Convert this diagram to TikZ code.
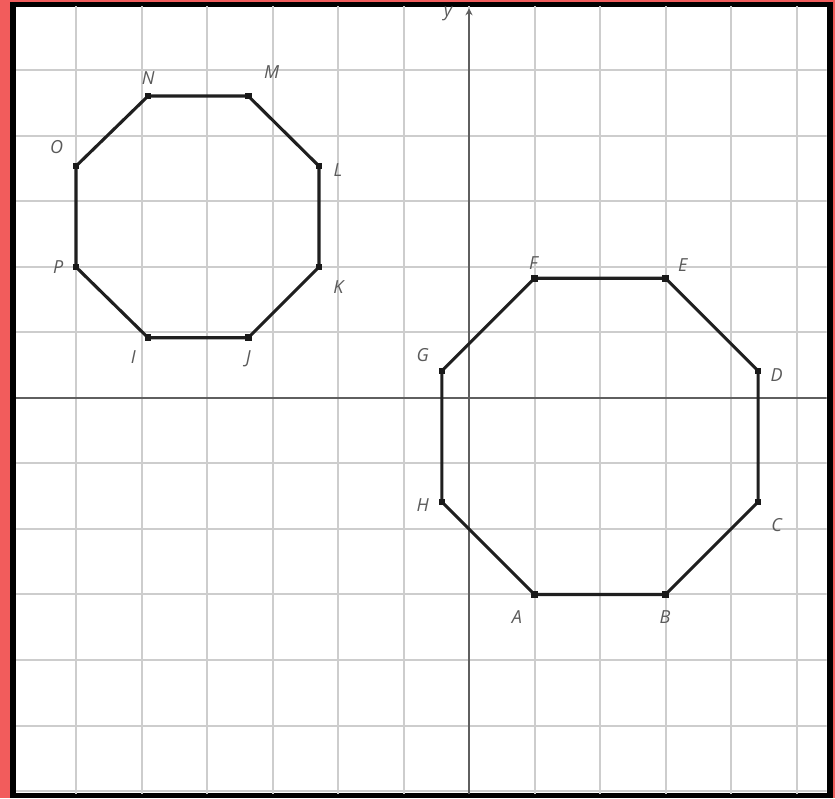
\documentclass[tikz,border=0pt]{standalone}
\usepackage{fontspec}
\setmainfont{Open Sans}
\usetikzlibrary{arrows.meta}
\definecolor{bgred}{RGB}{242,92,92}
\definecolor{gridgray}{RGB}{205,205,205}
\definecolor{axisgray}{RGB}{95,95,95}
\definecolor{labelgray}{RGB}{90,90,90}
\begin{document}
\begin{tikzpicture}[x=1pt,y=1pt,
  vdot/.style={fill=black!90, rectangle, inner sep=0pt, minimum size=6.5pt},
  vlab/.style={text=labelgray, font=\fontsize{18}{20}\selectfont\itshape, inner sep=0pt},
  edge/.style={line width=3.1pt, draw=black!88, line join=miter},
  gridline/.style={draw=gridgray, line width=2pt},
  axisline/.style={draw=axisgray, line width=2.4pt}]
\useasboundingbox (0,0) rectangle (835,798);
\fill[bgred] (0,0) rectangle (835,798);
\fill[black] (10,0) rectangle (833,796.3);
\fill[white] (16,5) rectangle (826.7,791.3);
\begin{scope}
\clip (16,5) rectangle (826.7,791.3);
\begin{scope}[shift={(469pt,400pt)}, x=65.5pt, y=65.5pt]
% grid
\foreach \k in {-7,...,6} \draw[gridline] (\k,-6.3) -- (\k,6.3);
\foreach \k in {-7,...,7} \draw[gridline] (-7.3,\k) -- (5.8,\k);
% axes
\coordinate (xl) at (-7.3,0);
\coordinate (xr) at (5.8,0);
\coordinate (yb) at (0,-6.3);
\coordinate (yt) at (0,5.95);
\draw[axisline] (xl) -- (xr);
\draw[axisline, -{Stealth[length=7pt,width=7pt]}] (yb) -- (yt);
\node[vlab] (ylab) at (-0.32,5.86) {y};
% right octagon
\coordinate (A) at (1,-3);
\coordinate (B) at (3,-3);
\coordinate (C) at (4.414,-1.586);
\coordinate (D) at (4.414,0.414);
\coordinate (E) at (3,1.828);
\coordinate (F) at (1,1.828);
\coordinate (G) at (-0.414,0.414);
\coordinate (H) at (-0.414,-1.586);
\draw[edge] (A) -- (B) -- (C) -- (D) -- (E) -- (F) -- (G) -- (H) -- cycle;
% left octagon
\coordinate (P) at (-6,2);
\coordinate (I) at (-4.9,0.92);
\coordinate (J) at (-3.37,0.92);
\coordinate (K) at (-2.29,2);
\coordinate (L) at (-2.29,3.54);
\coordinate (M) at (-3.37,4.61);
\coordinate (N) at (-4.9,4.61);
\coordinate (O) at (-6,3.54);
\draw[edge] (I) -- (J) -- (K) -- (L) -- (M) -- (N) -- (O) -- (P) -- cycle;
% vertex dots
\foreach \v in {A,B,C,D,E,F,G,H,I,J,K,L,M,N,O,P}
  \node[vdot] (d\v) at (\v) {};
% labels
\node[vlab] (lA) at (0.733,-3.344) {A};
\node[vlab] (lB) at (2.992,-3.344) {B};
\node[vlab] (lC) at (4.698,-1.939) {C};
\node[vlab] (lD) at (4.698,0.351) {D};
\node[vlab] (lE) at (3.263,2.031) {E};
\node[vlab] (lF) at (0.982,2.056) {F};
\node[vlab] (lG) at (-0.707,0.656) {G};
\node[vlab] (lH) at (-0.707,-1.634) {H};
\node[vlab] (lI) at (-5.125,0.631) {I};
\node[vlab] (lJ) at (-3.369,0.606) {J};
\node[vlab] (lK) at (-1.995,1.69) {K};
\node[vlab] (lL) at (-2.0,3.481) {L};
\node[vlab] (lM) at (-3.012,4.982) {M};
\node[vlab] (lN) at (-4.896,4.881) {N};
\node[vlab] (lO) at (-6.295,3.837) {O};
\node[vlab] (lP) at (-6.27,2.005) {P};
\end{scope}
\end{scope}
\end{tikzpicture}
\end{document}
